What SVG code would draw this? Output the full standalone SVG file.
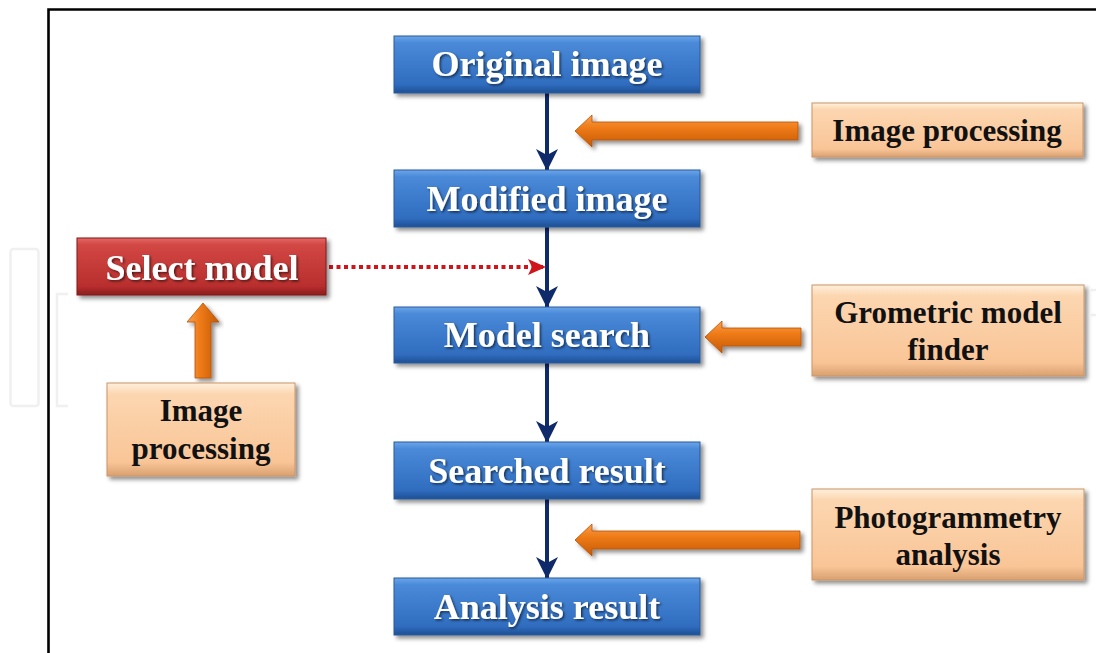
<svg xmlns="http://www.w3.org/2000/svg" width="1096" height="653" viewBox="0 0 1096 653">
<defs>
  <linearGradient id="gBlue" x1="0" y1="0" x2="0" y2="1">
    <stop offset="0" stop-color="#6aa6ea"/>
    <stop offset="0.12" stop-color="#4a8ad8"/>
    <stop offset="0.85" stop-color="#2f6cbf"/>
    <stop offset="1" stop-color="#1f4f93"/>
  </linearGradient>
  <linearGradient id="gRed" x1="0" y1="0" x2="0" y2="1">
    <stop offset="0" stop-color="#e56a66"/>
    <stop offset="0.12" stop-color="#d24744"/>
    <stop offset="0.85" stop-color="#b82e2d"/>
    <stop offset="1" stop-color="#8a1d1d"/>
  </linearGradient>
  <linearGradient id="gPeach" x1="0" y1="0" x2="0" y2="1">
    <stop offset="0" stop-color="#fff0dc"/>
    <stop offset="0.12" stop-color="#fcd6b0"/>
    <stop offset="0.85" stop-color="#f9c597"/>
    <stop offset="1" stop-color="#d9a070"/>
  </linearGradient>
  <linearGradient id="gOrange" x1="0" y1="0" x2="0" y2="1">
    <stop offset="0" stop-color="#f8a050"/>
    <stop offset="0.4" stop-color="#ef7b17"/>
    <stop offset="1" stop-color="#c45a05"/>
  </linearGradient>
  <linearGradient id="gOrangeV" x1="0" y1="0" x2="1" y2="0">
    <stop offset="0" stop-color="#f8a050"/>
    <stop offset="0.4" stop-color="#ef7b17"/>
    <stop offset="1" stop-color="#c45a05"/>
  </linearGradient>
  <filter id="shadow" x="-10%" y="-20%" width="125%" height="150%">
    <feDropShadow dx="3" dy="3" stdDeviation="2" flood-color="#000" flood-opacity="0.45"/>
  </filter>
  <filter id="tshadow" x="-5%" y="-20%" width="115%" height="150%">
    <feDropShadow dx="1.5" dy="1.5" stdDeviation="0.8" flood-color="#000" flood-opacity="0.6"/>
  </filter>
  <marker id="navyHead" viewBox="0 0 22 22" refX="21" refY="11" markerWidth="22" markerHeight="22" markerUnits="userSpaceOnUse" orient="auto">
    <path d="M0,0 L22,11 L0,22 L6,11 z" fill="#0f2a6a"/>
  </marker>
  <marker id="redHead" viewBox="0 0 18 18" refX="17" refY="9" markerWidth="18" markerHeight="18" markerUnits="userSpaceOnUse" orient="auto">
    <path d="M0,1 L18,9 L0,17 L4,9 z" fill="#d0141a"/>
  </marker>
</defs>
<style>
  .blue { fill: url(#gBlue); stroke: #2a5a9a; stroke-width: 1; filter: url(#shadow); }
  .red { fill: url(#gRed); stroke: #7e1a1a; stroke-width: 1; filter: url(#shadow); }
  .peach { fill: url(#gPeach); stroke: #c99466; stroke-width: 1; filter: url(#shadow); }
  .wt { font-family: "Liberation Serif", "Times New Roman", serif; font-weight: bold; font-size: 36px; fill: #ffffff; text-anchor: middle; filter: url(#tshadow); }
  .bt { font-family: "Liberation Serif", "Times New Roman", serif; font-weight: bold; font-size: 31px; fill: #111111; text-anchor: middle; }
  .navy { stroke: #0f2a6a; stroke-width: 4; fill: none; marker-end: url(#navyHead); }
  .dots { stroke: #d0141a; stroke-width: 4; stroke-dasharray: 4 3.5; fill: none; marker-end: url(#redHead); }
  .orange { fill: url(#gOrange); stroke: #b55206; stroke-width: 0.8; filter: url(#shadow); }
  .orangeV { fill: url(#gOrangeV); stroke: #b55206; stroke-width: 0.8; filter: url(#shadow); }
  .wm { fill: none; stroke: #f0f0f0; stroke-width: 2.5; }
</style>

<!-- faint watermark -->
<g id="watermark">
  <rect class="wm" x="10.5" y="249" width="28" height="157" rx="3"/>
  <path class="wm" d="M68,294 L57,294 L57,406 L68,406"/>
  <path class="wm" d="M1091,290 L1096,290 M1091,315 L1096,315"/>
</g>

<!-- frame -->
<g id="frame">
  <path d="M48.5,653 L48.5,9.5 L1096,9.5" fill="none" stroke="#000" stroke-width="2.6"/>
</g>

<g id="connectors">
  <path class="navy" d="M547,93 L547,170"/>
  <path class="navy" d="M547,227 L547,307"/>
  <path class="navy" d="M547,363 L547,442"/>
  <path class="navy" d="M547,499 L547,578"/>
  <path class="dots" d="M329,267 L545,267"/>
  <polygon class="orange" points="575,131 592,115 592,122 798,122 798,140 592,140 592,147"/>
  <polygon class="orange" points="705,337 722,321 722,328 801,328 801,346 722,346 722,353"/>
  <polygon class="orange" points="575,540 592,524 592,531 800,531 800,549 592,549 592,556"/>
  <polygon class="orangeV" points="203,303 219,322 211,322 211,378 195,378 195,322 187,322"/>
</g>

<g id="n-original">
  <rect class="blue" x="394" y="36" width="306" height="57"/>
  <text class="wt" x="547" y="76">Original image</text>
</g>
<g id="n-modified">
  <rect class="blue" x="394" y="170" width="306" height="57"/>
  <text class="wt" x="547" y="211">Modified image</text>
</g>
<g id="n-modelsearch">
  <rect class="blue" x="394" y="307" width="306" height="56"/>
  <text class="wt" x="547" y="347">Model search</text>
</g>
<g id="n-searched">
  <rect class="blue" x="394" y="442" width="306" height="57"/>
  <text class="wt" x="547" y="483">Searched result</text>
</g>
<g id="n-analysis">
  <rect class="blue" x="394" y="578" width="306" height="57"/>
  <text class="wt" x="547" y="619">Analysis result</text>
</g>

<g id="n-selectmodel">
  <rect class="red" x="77" y="238" width="249" height="57"/>
  <text class="wt" x="202" y="280">Select model</text>
</g>

<g id="n-imgproc-top">
  <rect class="peach" x="812" y="103" width="271" height="54"/>
  <text class="bt" x="947" y="141">Image processing</text>
</g>
<g id="n-geomfinder">
  <rect class="peach" x="812" y="285" width="272" height="91"/>
  <text class="bt" x="948" y="323">Grometric model</text>
  <text class="bt" x="948" y="360">finder</text>
</g>
<g id="n-photogrammetry">
  <rect class="peach" x="812" y="489" width="272" height="91"/>
  <text class="bt" x="948" y="528">Photogrammetry</text>
  <text class="bt" x="948" y="565">analysis</text>
</g>
<g id="n-imgproc-left">
  <rect class="peach" x="107" y="383" width="188" height="93"/>
  <text class="bt" x="201" y="421">Image</text>
  <text class="bt" x="201" y="459">processing</text>
</g>
</svg>
